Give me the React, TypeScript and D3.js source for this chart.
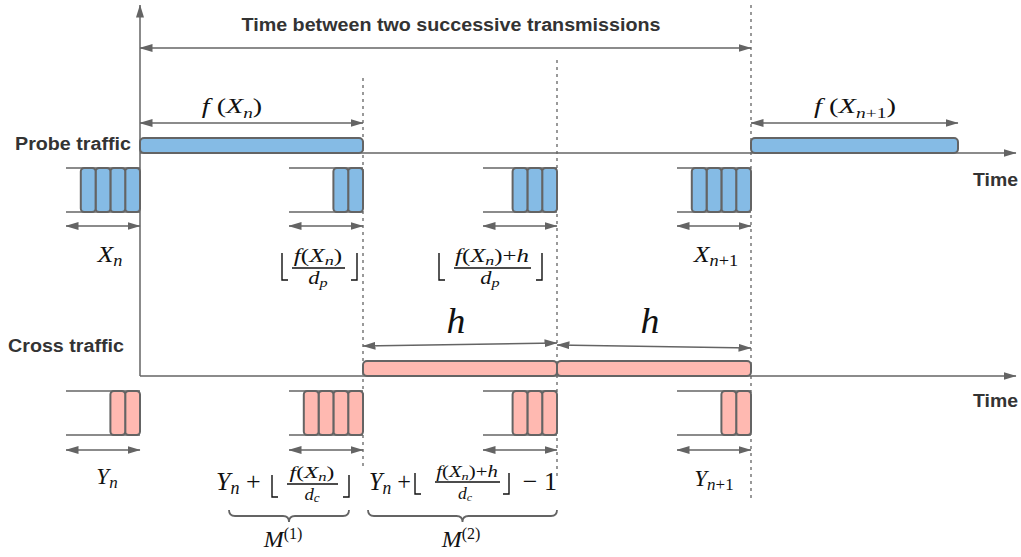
import React from "react";
import * as d3 from "d3";

// ---------- data (abstract time units) ----------
const eventTimes = [0, 2.23, 4.17, 6.11]; // queue snapshot instants
const axisEnd = 8.76;
const probeBarStart = [0, 6.11];
const probeBarEnd = [2.23, 8.18];
const crossBarStart = [2.23, 4.17];
const crossBarEnd = [4.17, 6.11];
const probePackets = [4, 2, 3, 4];
const crossPackets = [2, 4, 3, 2];
const queueLength = 0.74;
const packetLength = 0.148;
const dottedTimes = [2.23, 4.17, 6.11];
const rowLabels = ["Probe traffic", "Cross traffic"];
const axisLabel = "Time";
const titleLabel = "Time between two successive transmissions";

// ---------- styles ----------
const W = 1021;
const H = 557;
const GRAY = "#646464";
const TEXT = "#333333";
const INK = "#111111";
const BLUE = "#85bbe5";
const PINK = "#ffb9b1";
const SANS = "'Liberation Sans', Arial, Helvetica, sans-serif";
const SERIF = "'Liberation Serif', 'Times New Roman', serif";

const x = d3.scaleLinear().domain([0, axisEnd]).range([140, 1016]);

const AXIS_Y = [153, 376];
const BAR_H = 15;
const Q_TOP = [168, 391];
const Q_H = 44;
const Q_ARROW_Y = [226, 450];
const dottedTop = [78, 60, 5];
const dottedBottom = [468, 478, 500];

function brace(x1: number, x2: number, y: number, h: number) {
  const mid = (x1 + x2) / 2;
  const r = h / 2;
  return `M${x1},${y} Q${x1},${y + r} ${x1 + r},${y + r} L${mid - r},${y + r} Q${mid},${y + r} ${mid},${y + h} Q${mid},${y + r} ${mid + r},${y + r} L${x2 - r},${y + r} Q${x2},${y + r} ${x2},${y}`;
}

const It = ({ children, ...p }: any) => (
  <tspan fontStyle="italic" {...p}>
    {children}
  </tspan>
);

// math text, horizontally stretched like the reference
function MT({ x, y, sx = 1.3, size, anchor = "middle", children }: any) {
  return (
    <g transform={`translate(${x},${y}) scale(${sx},1)`}>
      <text x={0} y={0} textAnchor={anchor} fontFamily={SERIF} fontSize={size} fill={INK}>
        {children}
      </text>
    </g>
  );
}

function Floor({ x1, x2, y1, y2 }: { x1: number; x2: number; y1: number; y2: number }) {
  return (
    <g fill="none" stroke={INK} strokeWidth={1.4}>
      <path d={`M${x1},${y1} V${y2} H${x1 + 6}`} />
      <path d={`M${x2},${y1} V${y2} H${x2 - 6}`} />
    </g>
  );
}

const Bold = ({ x, y, len, anchor = "middle", children }: any) => (
  <text
    x={x}
    y={y}
    textAnchor={anchor}
    fontFamily={SANS}
    fontWeight="bold"
    fontSize={18}
    fill={TEXT}
    textLength={len}
    lengthAdjust="spacingAndGlyphs"
  >
    {children}
  </text>
);

export default function App() {
  const queues = (row: number, counts: number[], fill: string) =>
    eventTimes.map((t, i) => {
      const xe = x(t);
      const xs = x(t - queueLength);
      const top = Q_TOP[row];
      const pw = x(packetLength) - x(0);
      return (
        <g key={`q${row}-${i}`}>
          <line x1={xs} x2={xe} y1={top} y2={top} stroke={GRAY} strokeWidth={1.5} />
          <line x1={xs} x2={xe} y1={top + Q_H} y2={top + Q_H} stroke={GRAY} strokeWidth={1.5} />
          {d3.range(counts[i]).map((k) => (
            <rect
              key={k}
              x={xe - (k + 1) * pw}
              y={top}
              width={pw}
              height={Q_H}
              rx={3.5}
              fill={fill}
              stroke={GRAY}
              strokeWidth={2}
            />
          ))}
          <line
            x1={xs}
            x2={xe}
            y1={Q_ARROW_Y[row]}
            y2={Q_ARROW_Y[row]}
            stroke={GRAY}
            strokeWidth={1.5}
            markerStart="url(#ah)"
            markerEnd="url(#ah)"
          />
        </g>
      );
    });

  return (
    <svg
      width={W}
      height={H}
      viewBox={`0 0 ${W} ${H}`}
      style={{ position: "absolute", left: 0, top: 0, background: "#fff" }}
    >
      <defs>
        <marker
          id="ah"
          viewBox="0 0 13 8"
          refX={12.5}
          refY={4}
          markerWidth={13}
          markerHeight={8}
          markerUnits="userSpaceOnUse"
          orient="auto-start-reverse"
        >
          <path d="M0,0 L13,4 L0,8 z" fill={GRAY} />
        </marker>
      </defs>
      <rect width={W} height={H} fill="#fff" />

      {/* dotted guides */}
      {dottedTimes.map((t, i) => (
        <line
          key={`d${i}`}
          x1={x(t)}
          x2={x(t)}
          y1={dottedTop[i]}
          y2={dottedBottom[i]}
          stroke={GRAY}
          strokeWidth={1.3}
          strokeDasharray="3,4"
        />
      ))}

      {/* vertical axis */}
      <line x1={x(0)} x2={x(0)} y1={AXIS_Y[1]} y2={5} stroke={GRAY} strokeWidth={1.5} markerEnd="url(#ah)" />

      {/* horizontal axes */}
      {AXIS_Y.map((y, i) => (
        <line key={`ax${i}`} x1={x(0)} x2={x(axisEnd)} y1={y} y2={y} stroke={GRAY} strokeWidth={1.5} markerEnd="url(#ah)" />
      ))}

      {/* title arrow */}
      <line x1={x(0)} x2={x(eventTimes[3])} y1={48} y2={48} stroke={GRAY} strokeWidth={1.5} markerStart="url(#ah)" markerEnd="url(#ah)" />
      <Bold x={451} y={31} len={419}>
        {titleLabel}
      </Bold>

      {/* f(X) arrows */}
      {probeBarStart.map((s, i) => (
        <line key={`fa${i}`} x1={x(s)} x2={x(probeBarEnd[i])} y1={123} y2={123} stroke={GRAY} strokeWidth={1.5} markerStart="url(#ah)" markerEnd="url(#ah)" />
      ))}
      <MT x={232} y={113} size={22} sx={1.28}>
        <It>f</It>
        <tspan> (</tspan>
        <It>X</It>
        <It fontSize={15} dy={5}>n</It>
        <tspan dy={-5}>)</tspan>
      </MT>
      <MT x={855} y={113} size={22} sx={1.3}>
        <It>f</It>
        <tspan> (</tspan>
        <It>X</It>
        <It fontSize={15} dy={5}>n</It>
        <tspan fontSize={15}>+1</tspan>
        <tspan dy={-5}>)</tspan>
      </MT>

      {/* probe bars */}
      {probeBarStart.map((s, i) => (
        <rect key={`pb${i}`} x={x(s)} y={AXIS_Y[0] - BAR_H} width={x(probeBarEnd[i]) - x(s)} height={BAR_H} rx={4} fill={BLUE} stroke={GRAY} strokeWidth={2} />
      ))}

      {/* cross bars */}
      {crossBarStart.map((s, i) => (
        <rect key={`cb${i}`} x={x(s)} y={AXIS_Y[1] - BAR_H} width={x(crossBarEnd[i]) - x(s)} height={BAR_H} rx={4} fill={PINK} stroke={GRAY} strokeWidth={2} />
      ))}

      {/* h arrows */}
      <line x1={x(crossBarStart[0])} y1={346} x2={x(crossBarEnd[0])} y2={343} stroke={GRAY} strokeWidth={1.5} markerStart="url(#ah)" markerEnd="url(#ah)" />
      <line x1={x(crossBarStart[1])} y1={345} x2={x(crossBarEnd[1])} y2={348} stroke={GRAY} strokeWidth={1.5} markerStart="url(#ah)" markerEnd="url(#ah)" />
      {crossBarStart.map((s, i) => (
        <MT key={`h${i}`} x={(x(s) + x(crossBarEnd[i])) / 2 - 4} y={333} size={36} sx={1.05}>
          <It>h</It>
        </MT>
      ))}

      {/* queues */}
      {queues(0, probePackets, BLUE)}
      {queues(1, crossPackets, PINK)}

      {/* row labels */}
      <Bold x={15} y={150} len={116} anchor="start">
        {rowLabels[0]}
      </Bold>
      <Bold x={8} y={352} len={116} anchor="start">
        {rowLabels[1]}
      </Bold>
      <Bold x={973} y={186} len={45} anchor="start">
        {axisLabel}
      </Bold>
      <Bold x={973} y={407} len={45} anchor="start">
        {axisLabel}
      </Bold>

      {/* probe queue labels */}
      <MT x={x(eventTimes[0]) - 30} y={262} size={24} sx={1.08}>
        <It>X</It>
        <It fontSize={17} dy={4}>n</It>
      </MT>
      <MT x={x(eventTimes[3]) - 35} y={262} size={24} sx={1.08}>
        <It>X</It>
        <It fontSize={17} dy={4}>n</It>
        <tspan fontSize={17}>+1</tspan>
      </MT>

      {/* floor(f(Xn)/dp) */}
      <Floor x1={282} x2={357} y1={253} y2={280} />
      <MT x={318} y={262} size={18} sx={1.4}>
        <It>f</It>
        <tspan>(</tspan>
        <It>X</It>
        <It fontSize={13} dy={3}>n</It>
        <tspan dy={-3}>)</tspan>
      </MT>
      <line x1={292} x2={345} y1={268} y2={268} stroke={INK} strokeWidth={1.7} />
      <MT x={318} y={284} size={18} sx={1.25}>
        <It>d</It>
        <It fontSize={13} dy={3}>p</It>
      </MT>

      {/* floor((f(Xn)+h)/dp) */}
      <Floor x1={439} x2={542} y1={253} y2={280} />
      <MT x={492} y={262} size={18} sx={1.38}>
        <It>f</It>
        <tspan>(</tspan>
        <It>X</It>
        <It fontSize={13} dy={3}>n</It>
        <tspan dy={-3}>)+</tspan>
        <It>h</It>
      </MT>
      <line x1={454} x2={531} y1={268} y2={268} stroke={INK} strokeWidth={1.7} />
      <MT x={490} y={284} size={18} sx={1.25}>
        <It>d</It>
        <It fontSize={13} dy={3}>p</It>
      </MT>

      {/* cross queue labels */}
      <MT x={x(eventTimes[0]) - 33} y={484} size={23} sx={1.0}>
        <It>Y</It>
        <It fontSize={17} dy={4}>n</It>
      </MT>
      <MT x={x(eventTimes[3]) - 37} y={486} size={23} sx={1.0}>
        <It>Y</It>
        <It fontSize={17} dy={4}>n</It>
        <tspan fontSize={17}>+1</tspan>
      </MT>

      {/* Yn + floor(f(Xn)/dc) */}
      <MT x={216} y={490} size={26} sx={1.0} anchor="start">
        <It>Y</It>
        <It fontSize={18} dy={4}>n</It>
        <tspan dy={-4}> +</tspan>
      </MT>
      <Floor x1={272} x2={349} y1={475} y2={497} />
      <MT x={312} y={478} size={17} sx={1.38}>
        <It>f</It>
        <tspan>(</tspan>
        <It>X</It>
        <It fontSize={12} dy={3}>n</It>
        <tspan dy={-3}>)</tspan>
      </MT>
      <line x1={287} x2={338} y1={484} y2={484} stroke={INK} strokeWidth={1.7} />
      <MT x={312} y={500} size={17} sx={1.1}>
        <It>d</It>
        <It fontSize={12} dy={2}>c</It>
      </MT>
      <path d={brace(229, 349, 510, 12)} fill="none" stroke={GRAY} strokeWidth={1.8} />
      <MT x={283} y={547} size={24} sx={1.0}>
        <It>M</It>
        <tspan fontSize={16} dy={-8}>(1)</tspan>
      </MT>

      {/* Yn + floor((f(Xn)+h)/dc) - 1 */}
      <MT x={369} y={490} size={25} sx={0.97} anchor="start">
        <It>Y</It>
        <It fontSize={18} dy={4}>n</It>
        <tspan dy={-4}> +</tspan>
      </MT>
      <Floor x1={415} x2={509} y1={473} y2={494} />
      <MT x={467} y={477} size={16} sx={1.3}>
        <It>f</It>
        <tspan>(</tspan>
        <It>X</It>
        <It fontSize={11} dy={3}>n</It>
        <tspan dy={-3}>)+</tspan>
        <It>h</It>
      </MT>
      <line x1={435} x2={500} y1={482} y2={482} stroke={INK} strokeWidth={1.7} />
      <MT x={465} y={499} size={16} sx={1.1}>
        <It>d</It>
        <It fontSize={11} dy={2}>c</It>
      </MT>
      <MT x={557} y={490} size={26} sx={1.0} anchor="end">
        − 1
      </MT>
      <path d={brace(368, 557, 510, 12)} fill="none" stroke={GRAY} strokeWidth={1.8} />
      <MT x={461} y={547} size={24} sx={1.0}>
        <It>M</It>
        <tspan fontSize={16} dy={-8}>(2)</tspan>
      </MT>
    </svg>
  );
}
